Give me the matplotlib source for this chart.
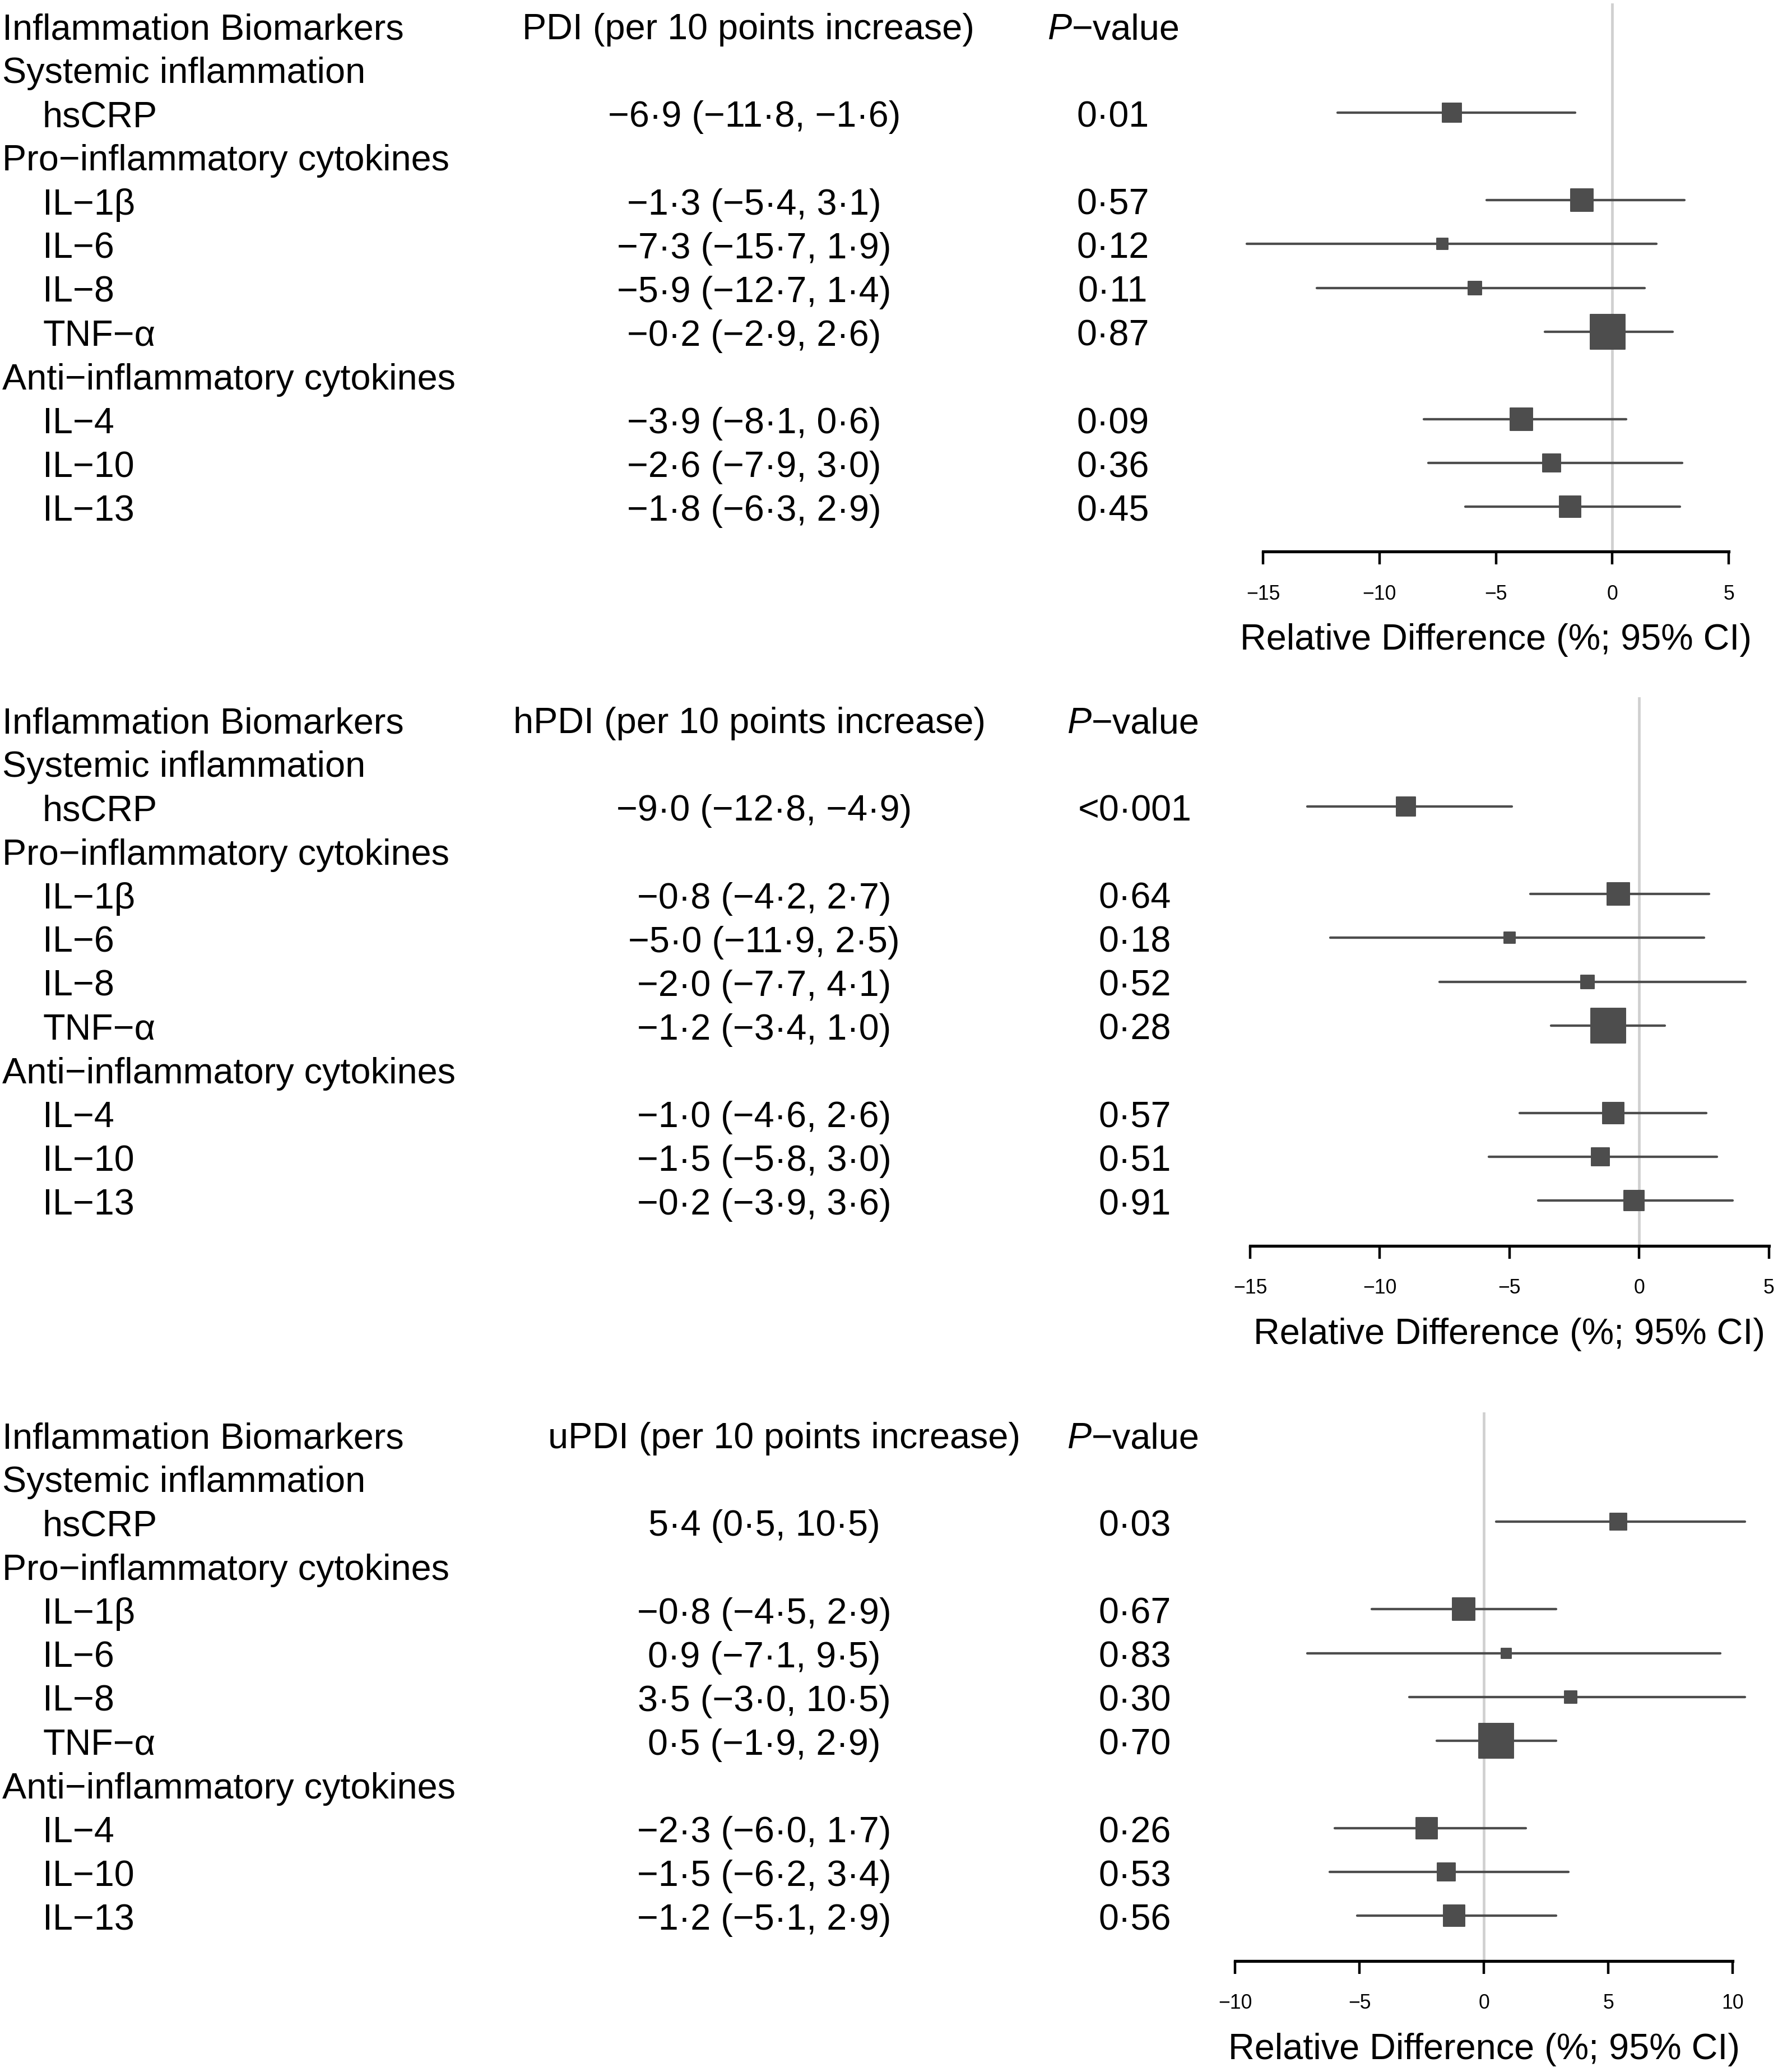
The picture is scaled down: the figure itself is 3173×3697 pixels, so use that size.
import matplotlib
matplotlib.use("Agg")
import matplotlib.pyplot as plt
from matplotlib.markers import MarkerStyle
from matplotlib.transforms import blended_transform_factory

plt.rcParams['font.family'] = ['Liberation Sans', 'DejaVu Sans']

# ---- data ----
groups = ["Systemic inflammation", "Pro\u2212inflammatory cytokines", "Anti\u2212inflammatory cytokines"]
group_sizes = [1, 4, 3]
biomarkers = ["hsCRP", "IL\u22121\u03b2", "IL\u22126", "IL\u22128", "TNF\u2212\u03b1", "IL\u22124", "IL\u221210", "IL\u221213"]

pdi_est = [-6.9, -1.3, -7.3, -5.9, -0.2, -3.9, -2.6, -1.8]
pdi_lo = [-11.8, -5.4, -15.7, -12.7, -2.9, -8.1, -7.9, -6.3]
pdi_hi = [-1.6, 3.1, 1.9, 1.4, 2.6, 0.6, 3.0, 2.9]
pdi_p = ["0\u00b701", "0\u00b757", "0\u00b712", "0\u00b711", "0\u00b787", "0\u00b709", "0\u00b736", "0\u00b745"]

hpdi_est = [-9.0, -0.8, -5.0, -2.0, -1.2, -1.0, -1.5, -0.2]
hpdi_lo = [-12.8, -4.2, -11.9, -7.7, -3.4, -4.6, -5.8, -3.9]
hpdi_hi = [-4.9, 2.7, 2.5, 4.1, 1.0, 2.6, 3.0, 3.6]
hpdi_p = ["<0\u00b7001", "0\u00b764", "0\u00b718", "0\u00b752", "0\u00b728", "0\u00b757", "0\u00b751", "0\u00b791"]

updi_est = [5.4, -0.8, 0.9, 3.5, 0.5, -2.3, -1.5, -1.2]
updi_lo = [0.5, -4.5, -7.1, -3.0, -1.9, -6.0, -6.2, -5.1]
updi_hi = [10.5, 2.9, 9.5, 10.5, 2.9, 1.7, 3.4, 2.9]
updi_p = ["0\u00b703", "0\u00b767", "0\u00b783", "0\u00b730", "0\u00b770", "0\u00b726", "0\u00b753", "0\u00b756"]

pdi_ticks = [-15, -10, -5, 0, 5]
hpdi_ticks = [-15, -10, -5, 0, 5]
updi_ticks = [-10, -5, 0, 5, 10]

# ---- layout (pixels) ----
W, H, DPI = 3173, 3698, 100
ROW = 78.1
FS = 46.6
TICK_FS = 25.7
BOX_COL = '#4D4D4D'

panels = [
    dict(name="PDI", est=pdi_est, lo=pdi_lo, hi=pdi_hi, p=pdi_p, ticks=pdi_ticks,
         px=(2254, 3085), row0=45.9, xlim=(-16.5, 6.0),
         mid_x=1346, mid_hx=1335, p_x=1986, p_hx=1913),
    dict(name="hPDI", est=hpdi_est, lo=hpdi_lo, hi=hpdi_hi, p=hpdi_p, ticks=hpdi_ticks,
         px=(2231, 3156.5), row0=1284, xlim=(-16.0, 5.2),
         mid_x=1363.5, mid_hx=1337, p_x=2025, p_hx=1948),
    dict(name="uPDI", est=updi_est, lo=updi_lo, hi=updi_hi, p=updi_p, ticks=updi_ticks,
         px=(2204, 3092), row0=2560, xlim=(-11.0, 11.5),
         mid_x=1363.5, mid_hx=1400, p_x=2025, p_hx=1948),
]


def fmt(v):
    return f"{v:.1f}".replace("-", "\u2212").replace(".", "\u00b7")


# rows: 0 header, then group header followed by its items
item_rows = []
group_rows = []
r = 1
for g, n in zip(groups, group_sizes):
    group_rows.append(r)
    r += 1
    for _ in range(n):
        item_rows.append(r)
        r += 1
n_rows = r
bottom_row = n_rows + 0.03

fig = plt.figure(figsize=(W / DPI, H / DPI), dpi=DPI)
box_marker = MarkerStyle('s', joinstyle='round')

for pan in panels:
    t0, t1 = pan['ticks'][0], pan['ticks'][-1]
    ppu = (pan['px'][1] - pan['px'][0]) / (t1 - t0)
    left = pan['px'][0] + (pan['xlim'][0] - t0) * ppu
    right = pan['px'][0] + (pan['xlim'][1] - t0) * ppu
    top = pan['row0'] - 0.5 * ROW
    bottom = pan['row0'] + bottom_row * ROW
    ax = fig.add_axes([left / W, 1 - bottom / H, (right - left) / W, (bottom - top) / H])
    ax.set_xlim(pan['xlim'])
    ax.set_ylim(bottom_row, -0.5)
    ax.patch.set_alpha(0)

    # zero reference line
    ax.axvline(0, color='#D0D0D0', lw=3.4, zorder=0)

    # CI lines and boxes (box size ~ 1/CI width as in forestplot)
    widths = [h - l for l, h in zip(pan['lo'], pan['hi'])]
    wmin = min(widths)
    for row, e, l, h, w in zip(item_rows, pan['est'], pan['lo'], pan['hi'], widths):
        ax.plot([l, h], [row, row], color=BOX_COL, lw=3.1, solid_capstyle='round', zorder=2)
        side_px = 0.8 * ROW * wmin / w
        ax.plot([e], [row], marker=box_marker, ms=side_px * 72 / DPI, color=BOX_COL,
                mec=BOX_COL, mew=1.4, zorder=3)

    for s in ['top', 'right', 'left']:
        ax.spines[s].set_visible(False)
    ax.spines['bottom'].set_bounds(t0, t1)
    ax.spines['bottom'].set_linewidth(3.8)
    ax.set_yticks([])
    ax.set_xticks(pan['ticks'])
    ax.tick_params(axis='x', length=16.5, width=3.2, pad=25, labelsize=TICK_FS)

    axis_px = bottom
    xc = (pan['px'][0] + pan['px'][1]) / 2
    fig.text(xc / W, 1 - (axis_px + 157) / H, "Relative Difference (%; 95% CI)",
             ha='center', va='center', fontsize=FS)

    # table text
    tr = blended_transform_factory(fig.transFigure, ax.transData)
    dy = 0.31

    def put(x, row, s, ha='left', **kw):
        ax.text(x / W, row + dy, s, transform=tr, ha=ha, va='baseline',
                fontsize=FS, clip_on=False, **kw)

    put(4, 0, "Inflammation Biomarkers")
    put(pan['mid_hx'], 0, f"{pan['name']} (per 10 points increase)", ha='center')
    put(pan['p_hx'], 0, "P", ha='right', style='italic')
    put(pan['p_hx'], 0, "\u2212value")
    for g, row in zip(groups, group_rows):
        put(4, row, g)
    for b, row, e, l, h, p in zip(biomarkers, item_rows, pan['est'], pan['lo'], pan['hi'], pan['p']):
        put(76, row, b)
        put(pan['mid_x'], row, f"{fmt(e)} ({fmt(l)}, {fmt(h)})", ha='center')
        put(pan['p_x'], row, p, ha='center')

fig.savefig("out.png", dpi=DPI, facecolor='white')
